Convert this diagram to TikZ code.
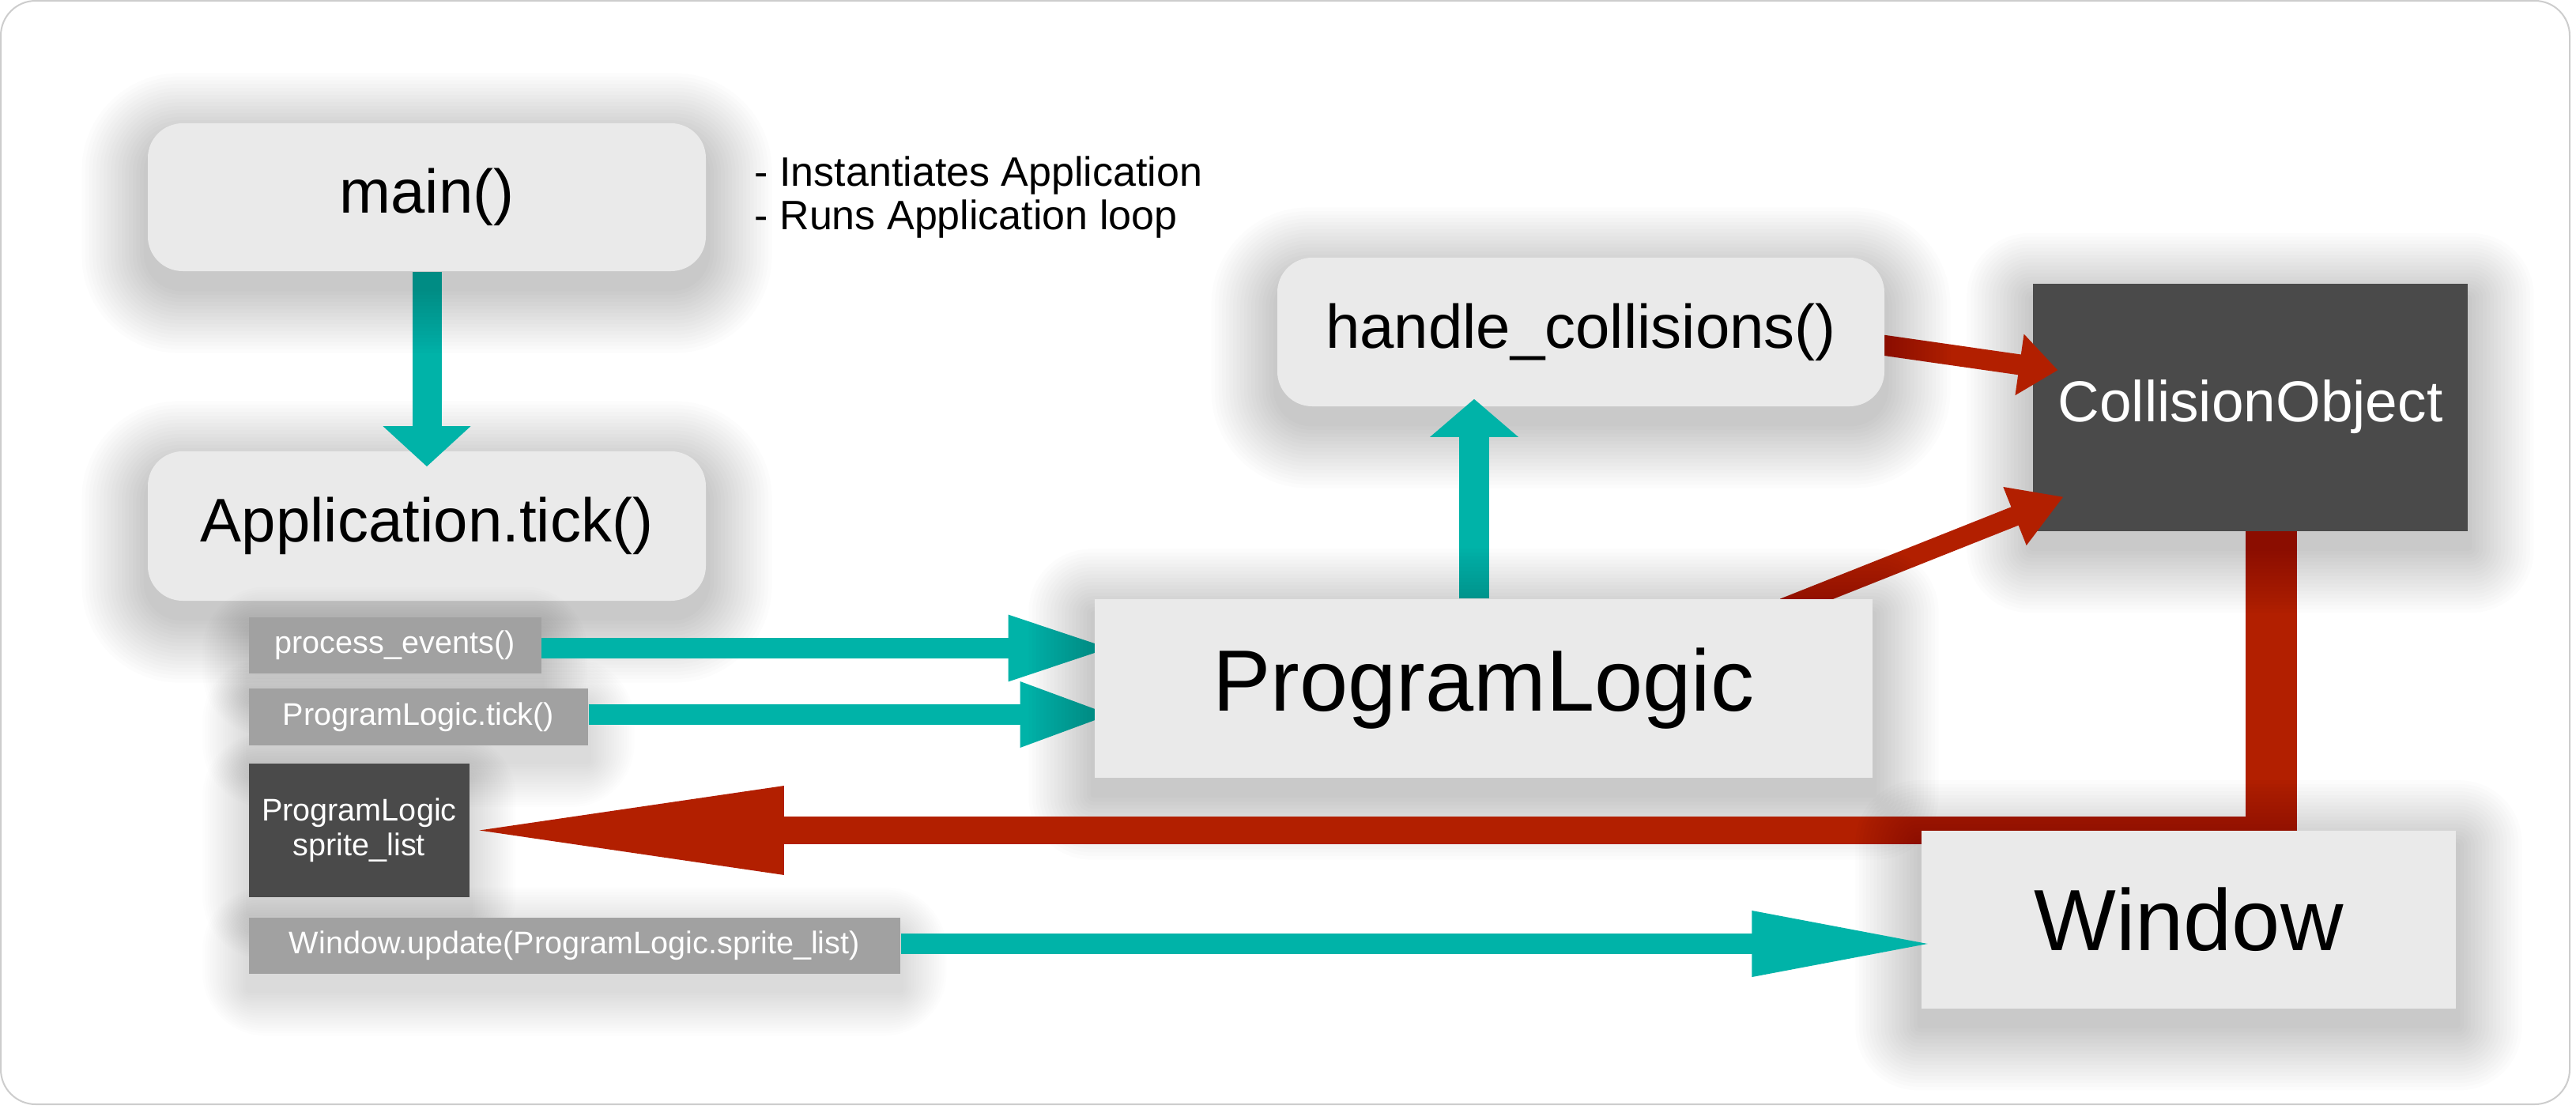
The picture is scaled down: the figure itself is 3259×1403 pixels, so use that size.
\documentclass[tikz,border=0pt]{standalone}
\usepackage{fontspec}
\setmainfont{Liberation Sans}
\usetikzlibrary{arrows.meta,calc}
\definecolor{tealc}{RGB}{0,179,168}
\definecolor{redc}{RGB}{178,31,0}
\definecolor{darkc}{RGB}{74,74,74}
\definecolor{grayc}{RGB}{161,161,161}
\definecolor{lightc}{RGB}{234,234,234}
\definecolor{framec}{RGB}{205,205,205}
\pgfdeclarelayer{fr}
\pgfdeclarelayer{a0}
\pgfdeclarelayer{s1}
\pgfdeclarelayer{n1}
\pgfdeclarelayer{a1}
\pgfdeclarelayer{s2}
\pgfdeclarelayer{n2}
\pgfdeclarelayer{a2}
\pgfdeclarelayer{s3}
\pgfdeclarelayer{n3}
\pgfdeclarelayer{a3}
\pgfdeclarelayer{s4}
\pgfdeclarelayer{n4}
\pgfsetlayers{fr,a0,s1,n1,a1,s2,n2,a2,s3,n3,a3,s4,n4,main}
% soft shadow under a named node: #1 node, #2 base corner radius, #3 opacity per step, #4 spread per step (px)
\newcommand\shadowof[4]{%
  \foreach \k in {1,...,18}{%
    \fill[black, fill opacity=#3, rounded corners=#2+\k*1.1pt]
      ($(#1.north west)+(-\k*#4,-\k*#4+20)$) rectangle ($(#1.south east)+(\k*#4,\k*#4+20)$);
  }}
\begin{document}
\begin{tikzpicture}[x=0.25pt,y=-0.25pt,
  roundbox/.style={fill=lightc, rounded corners=11pt, inner sep=0pt, font=\fontsize{19.5}{23}\selectfont},
  bigbox/.style={fill=lightc, inner sep=0pt, font=\fontsize{27.5}{32}\selectfont},
  darkbox/.style={fill=darkc, text=white, inner sep=0pt},
  smallbox/.style={fill=grayc, text=white, inner sep=0pt, font=\fontsize{9.9}{11}\selectfont},
  tealarrow/.style={draw=tealc, line cap=butt},
  redarrow/.style={draw=redc, line cap=butt},
  notetext/.style={anchor=base west, inner sep=0pt, font=\fontsize{13}{15}\selectfont},
]
\useasboundingbox (0,0) rectangle (3259,1403);
\begin{pgfonlayer}{fr}
\draw[framec, line width=0.5pt, fill=white, rounded corners=11pt] (1,1) rectangle (3251,1397);
\end{pgfonlayer}

% ---------- nodes ----------
\begin{pgfonlayer}{n1}
\node[roundbox, minimum width=176.5pt, minimum height=47.25pt] (app) at (540,665.5) {Application.tick()};
\node[darkbox, minimum width=137.5pt, minimum height=78.25pt, font=\fontsize{18.25}{21}\selectfont] (coll) at (2847,515) {CollisionObject};
\end{pgfonlayer}
\begin{pgfonlayer}{s1}
\shadowof{app}{11pt}{0.013}{4.6}
\shadowof{coll}{0pt}{0.013}{4.6}
\end{pgfonlayer}

\begin{pgfonlayer}{n2}
\node[roundbox, minimum width=176.5pt, minimum height=46.75pt] (main) at (540,249.5) {main()};
\node[roundbox, minimum width=192pt, minimum height=47pt] (handle) at (2000,420) {handle\_collisions()};
\node[smallbox, minimum width=92.5pt, minimum height=17.75pt] (process) at (499.6,816.4) {process\_events()};
\node[smallbox, minimum width=107.3pt, minimum height=17.9pt] (tick) at (529.4,906.8) {ProgramLogic.tick()};
\node[darkbox, minimum width=69.8pt, minimum height=42.25pt, align=center, font=\fontsize{9.9}{11}\selectfont] (sprite) at (454.4,1050.5) {ProgramLogic\\sprite\_list};
\node[smallbox, minimum width=206.1pt, minimum height=17.8pt] (update) at (726.9,1196.3) {Window.update(ProgramLogic.sprite\_list)};
\end{pgfonlayer}
\begin{pgfonlayer}{s2}
\shadowof{main}{11pt}{0.013}{4.6}
\shadowof{handle}{11pt}{0.013}{4.6}
\shadowof{process}{0pt}{0.008}{3.2}
\shadowof{tick}{0pt}{0.008}{3.2}
\shadowof{sprite}{0pt}{0.008}{3.2}
\shadowof{update}{0pt}{0.008}{3.2}
\end{pgfonlayer}

\begin{pgfonlayer}{n3}
\node[bigbox, minimum width=246pt, minimum height=56.5pt] (PL) at (1877,871) {ProgramLogic};
\end{pgfonlayer}
\begin{pgfonlayer}{s3}
\shadowof{PL}{0pt}{0.013}{4.6}
\end{pgfonlayer}

\begin{pgfonlayer}{n4}
\node[bigbox, minimum width=169pt, minimum height=56.25pt] (window) at (2769,1163.3) {Window};
\end{pgfonlayer}
\begin{pgfonlayer}{s4}
\shadowof{window}{0pt}{0.013}{4.6}
\end{pgfonlayer}

% ---------- connectors ----------
\coordinate (cb) at ($(coll.south)+(26,0)$);
\coordinate (bend) at (cb |- sprite.east);
\coordinate (pe) at ($(process.east)+(0,3.6)$);
\coordinate (te) at ($(tick.east)+(0,-2.8)$);
\coordinate (ue) at ($(update.east)+(0,-2.3)$);

\begin{pgfonlayer}{a0}
\draw[redarrow, line width=16.25pt] (cb) -- ($(bend)+(0,17.8)$);
\end{pgfonlayer}

\begin{pgfonlayer}{a1}
\draw[tealarrow, line width=9.25pt, -{Triangle[length=12.75pt,width=27pt]}, shorten >=-5pt] (main.south) -- (app.north);
\draw[redarrow, line width=6.5pt, -{Triangle[length=12.25pt,width=18.75pt]}] ($(handle.east)+(-21,14)$) -- ($(coll.west)+(32.3,-46.7)$);
\draw[redarrow, line width=6.25pt, -{Triangle[length=16.65pt,width=18.65pt]}] ($(PL.north)+(379.7,12)$) -- ($(coll.south west)+(39.7,-43.9)$);
\end{pgfonlayer}

\begin{pgfonlayer}{a2}
\draw[tealarrow, line width=9.5pt, -{Triangle[length=12pt,width=27.25pt]}, shorten >=-2.5pt] ($(PL.north)+(-12,0)$) -- ($(handle.south)+(-135,0)$);
\draw[tealarrow, line width=6.65pt, -{Triangle[length=33.4pt,width=19pt]}, shorten >=-6.25pt] (pe) -- (pe -| PL.west);
\draw[tealarrow, line width=6.6pt, -{Triangle[length=29.9pt,width=18.75pt]}, shorten >=-6.5pt] (te) -- (te -| PL.west);
\end{pgfonlayer}

\begin{pgfonlayer}{a3}
\draw[redarrow, line width=8.9pt, -{Triangle[length=101.25pt,width=25.5pt]}, shorten >=-2pt] ($(bend)+(32.5,0)$) -- (sprite.east);
\end{pgfonlayer}

\draw[tealarrow, line width=6.5pt, -{Triangle[length=58.25pt,width=19pt]}, shorten >=-4.8pt] (ue) -- (ue -| window.west);

% ---------- notes ----------
\node[notetext] (note1) at (954,235.7) {- Instantiates Application};
\node[notetext] (note2) at (954,290.8) {- Runs Application loop};
\end{tikzpicture}
\end{document}
